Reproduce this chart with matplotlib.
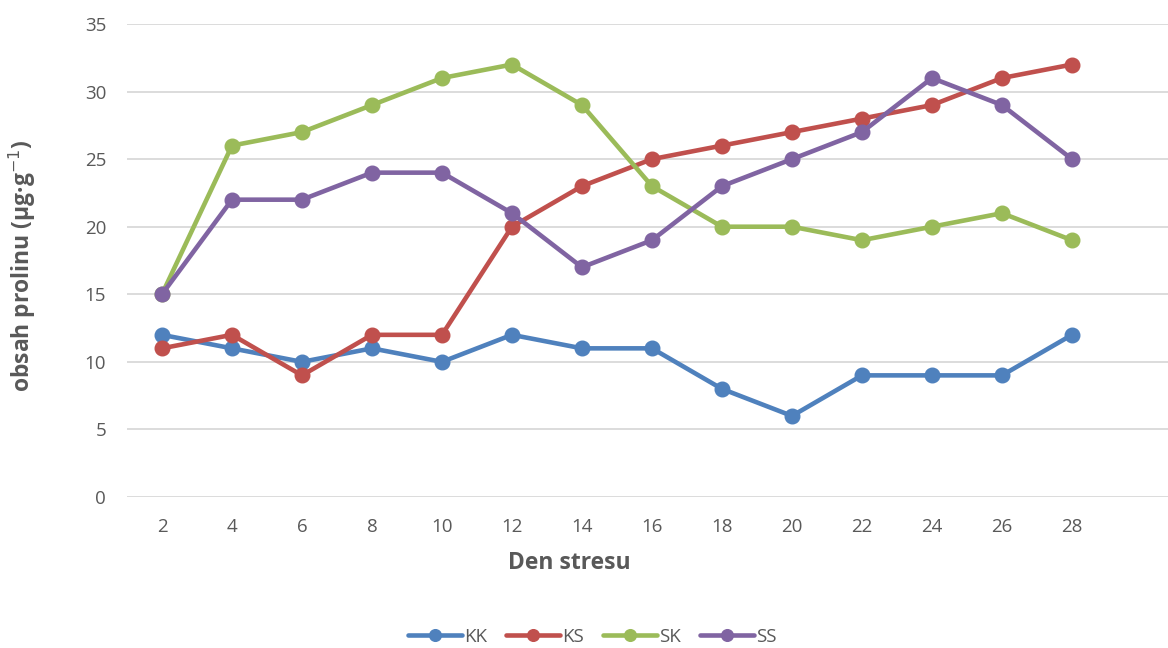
import numpy as np
import matplotlib.pyplot as plt

# stress days and proline content for each variant
days = [2, 4, 6, 8, 10, 12, 14, 16, 18, 20, 22, 24, 26, 28]
kk = [12, 11, 10, 11, 10, 12, 11, 11, 8, 6, 9, 9, 9, 12]
ks = [11, 12, 9, 12, 12, 20, 23, 25, 26, 27, 28, 29, 31, 32]
sk = [15, 26, 27, 29, 31, 32, 29, 23, 20, 20, 19, 20, 21, 19]
ss = [15, 22, 22, 24, 24, 21, 17, 19, 23, 25, 27, 31, 29, 25]

series = [('KK', kk, '#4F81BD'), ('KS', ks, '#C0504D'),
          ('SK', sk, '#9BBB59'), ('SS', ss, '#8064A2')]

plt.rcParams['font.family'] = ['Open Sans', 'DejaVu Sans']

fig = plt.figure(figsize=(11.68, 6.48), dpi=100)
ax = fig.add_axes([0.1087, 0.233, 0.899, 0.730])

x = np.arange(len(days))
for name, vals, col in series:
    ax.plot(x, vals, color=col, lw=3.3, marker='o', ms=10.5, label=name,
            solid_capstyle='round')

ax.set_xlim(-0.5, len(days) + 0.5)
ax.set_ylim(0, 35)
ax.set_yticks(range(0, 36, 5))
ax.set_xticks(x)
ax.set_xticklabels([str(d) for d in days])
ax.grid(axis='y', color='#D9D9D9', lw=1.3)
ax.set_axisbelow(True)
for s in ax.spines.values():
    s.set_visible(False)
ax.tick_params(length=0, labelsize=13.5, labelcolor='#595959')
ax.tick_params(axis='y', pad=15)
ax.tick_params(axis='x', pad=15)

fig.text(0.487, 0.131, 'Den stresu', ha='center', va='center',
         fontsize=16.5, fontweight='bold', color='#595959')
fig.text(0.019, 0.59, r'obsah prolinu (µg·g$^{-1}$)', rotation=90,
         ha='center', va='center', fontsize=16.5, fontweight='bold',
         color='#595959')

fig.legend(loc='center', bbox_to_anchor=(0.507, 0.017), ncol=4, frameon=False,
           fontsize=13.5, labelcolor='#595959', handlelength=2.9,
           columnspacing=1.0, handletextpad=0.1, markerscale=0.8)

fig.savefig('out.png', dpi=100)
